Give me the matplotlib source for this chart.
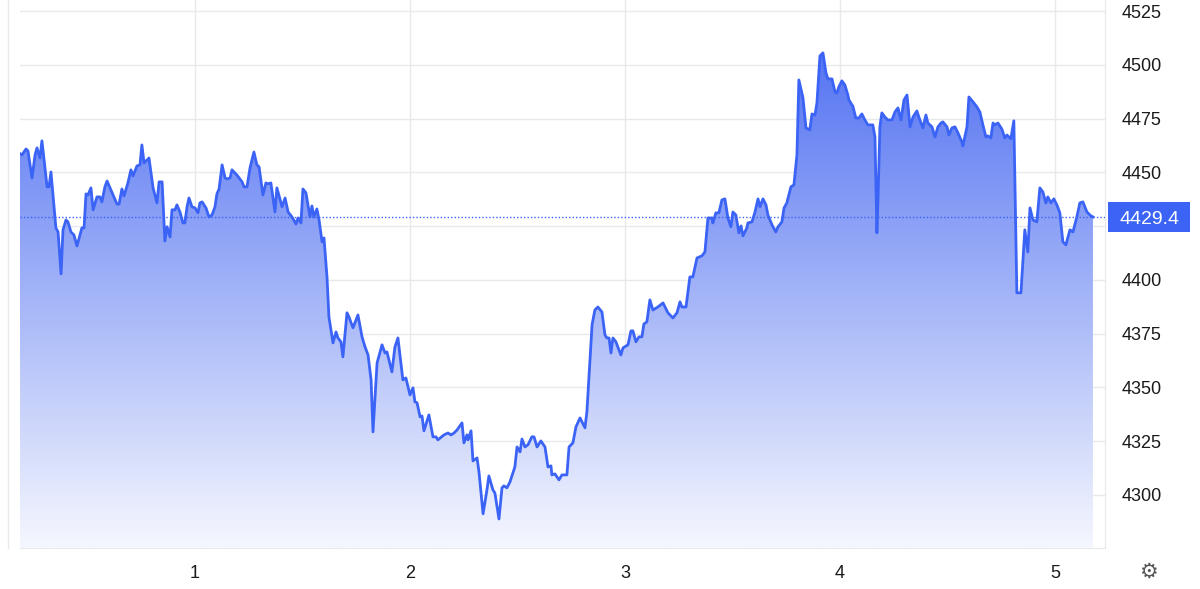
import matplotlib
matplotlib.use('Agg')
import matplotlib.pyplot as plt
import numpy as np
from matplotlib.patches import Polygon, Rectangle
from matplotlib.colors import LinearSegmentedColormap

time = [0.181,0.195,0.214,0.223,0.242,0.256,0.265,0.279,0.288,0.312,0.321,0.330,0.353,0.363,0.377,0.386,0.400,0.409,0.423,0.437,
0.451,0.474,0.484,0.493,0.502,0.516,0.526,0.544,0.558,0.567,0.581,0.591,0.619,0.637,0.647,0.660,0.670,0.688,0.702,0.712,
0.730,0.744,0.753,0.763,0.786,0.805,0.823,0.833,0.847,0.860,0.870,0.884,0.893,0.907,0.916,0.930,0.944,0.953,0.963,0.972,
0.986,1.000,1.014,1.023,1.033,1.051,1.065,1.079,1.093,1.102,1.112,1.126,1.140,1.149,1.163,1.172,1.195,1.219,1.228,1.242,
1.256,1.274,1.288,1.298,1.316,1.330,1.340,1.353,1.372,1.381,1.405,1.419,1.433,1.451,1.470,1.479,1.493,1.502,1.516,1.535,
1.544,1.553,1.567,1.577,1.591,1.600,1.614,1.623,1.642,1.656,1.665,1.679,1.688,1.707,1.716,1.735,1.758,1.777,1.791,1.805,
1.819,1.828,1.847,1.870,1.884,1.893,1.916,1.930,1.944,1.967,1.981,2.000,2.014,2.023,2.033,2.047,2.056,2.065,2.088,2.107,
2.121,2.130,2.158,2.177,2.191,2.205,2.219,2.242,2.251,2.265,2.270,2.284,2.293,2.312,2.321,2.340,2.358,2.367,2.386,2.395,
2.414,2.428,2.437,2.451,2.465,2.488,2.498,2.512,2.521,2.535,2.549,2.567,2.577,2.591,2.609,2.628,2.642,2.656,2.660,2.674,
2.693,2.707,2.730,2.740,2.758,2.772,2.791,2.814,2.823,2.847,2.860,2.874,2.893,2.907,2.916,2.926,2.935,2.944,2.958,2.981,
2.991,3.014,3.028,3.037,3.051,3.065,3.079,3.088,3.102,3.116,3.130,3.153,3.177,3.200,3.223,3.242,3.256,3.265,3.284,3.302,
3.316,3.335,3.358,3.372,3.386,3.405,3.409,3.423,3.437,3.451,3.465,3.479,3.493,3.502,3.516,3.530,3.540,3.549,3.567,3.572,
3.591,3.605,3.619,3.628,3.642,3.656,3.665,3.684,3.702,3.712,3.730,3.740,3.753,3.772,3.786,3.800,3.809,3.828,3.842,3.860,
3.870,3.884,3.893,3.907,3.921,3.935,3.944,3.963,3.977,3.986,3.995,4.009,4.023,4.037,4.042,4.056,4.060,4.074,4.088,4.102,
4.116,4.130,4.153,4.163,4.172,4.177,4.186,4.195,4.209,4.223,4.242,4.256,4.270,4.284,4.298,4.312,4.326,4.340,4.358,4.367,
4.377,4.386,4.400,4.409,4.428,4.442,4.456,4.470,4.479,4.498,4.507,4.521,4.535,4.549,4.567,4.572,4.591,4.600,4.619,4.637,
4.651,4.665,4.679,4.688,4.702,4.712,4.721,4.735,4.753,4.767,4.777,4.795,4.809,4.823,4.842,4.860,4.874,4.884,4.898,4.916,
4.930,4.944,4.958,4.967,4.981,4.995,5.009,5.023,5.037,5.051,5.070,5.084,5.102,5.116,5.130,5.149,5.167,5.177]

price = [4459.1,4458.1,4460.9,4460.0,4447.4,4458.1,4461.4,4456.7,4464.7,4443.3,4443.3,4450.2,4424.2,4422.3,4402.8,4423.3,4427.9,4427.0,4422.3,4420.9,
4415.8,4424.2,4424.2,4440.0,4439.5,4442.8,4432.6,4438.6,4438.6,4436.3,4443.3,4446.0,4439.5,4435.3,4435.3,4442.3,4439.1,4445.1,4451.2,4448.4,
4453.0,4453.5,4462.8,4454.4,4456.7,4442.8,4435.8,4445.6,4445.6,4418.1,4424.7,4420.0,4432.6,4432.6,4434.9,4431.6,4426.5,4426.5,4434.0,4438.1,
4434.0,4433.5,4431.2,4435.8,4436.3,4433.5,4429.3,4430.2,4434.0,4440.0,4442.3,4453.5,4447.4,4447.0,4447.4,4451.2,4448.8,4445.6,4443.3,4443.3,
4452.1,4459.5,4453.5,4452.6,4439.5,4445.1,4444.7,4445.1,4431.6,4442.8,4434.0,4438.1,4431.6,4429.3,4426.0,4428.8,4426.5,4442.3,4440.5,4429.3,
4434.4,4429.3,4433.0,4427.9,4417.7,4419.5,4401.4,4382.8,4370.7,4375.8,4373.0,4371.2,4364.2,4384.7,4382.8,4377.7,4383.7,4373.5,4368.8,4365.1,
4353.5,4329.3,4361.4,4369.8,4366.0,4366.5,4357.2,4368.8,4373.0,4353.5,4354.4,4346.5,4349.8,4343.3,4342.8,4336.3,4336.7,4329.8,4337.2,4327.0,
4327.0,4325.6,4327.9,4328.8,4327.9,4328.8,4330.2,4333.5,4324.2,4327.9,4325.6,4329.8,4315.8,4317.2,4310.7,4291.2,4302.3,4308.8,4302.3,4300.9,
4288.8,4303.3,4304.2,4303.3,4306.0,4313.0,4322.3,4320.0,4326.0,4322.3,4323.3,4327.0,4327.0,4322.3,4325.1,4322.3,4313.0,4313.5,4309.3,4309.8,
4307.0,4309.3,4309.3,4322.3,4324.2,4331.6,4335.8,4331.2,4338.6,4379.1,4386.0,4387.4,4385.1,4374.4,4373.0,4373.0,4366.0,4373.0,4371.2,4365.1,
4368.4,4369.8,4376.3,4376.3,4371.2,4373.5,4373.5,4379.5,4380.5,4390.7,4386.0,4387.4,4389.3,4384.7,4382.3,4384.7,4389.8,4387.4,4387.4,4401.4,4401.4,
4410.2,4411.2,4413.0,4428.8,4428.8,4426.5,4431.2,4431.2,4437.2,4437.7,4428.8,4424.7,4431.6,4430.2,4421.9,4425.1,4420.5,4424.2,4426.5,4427.0,
4431.6,4437.7,4434.0,4437.7,4434.9,4430.2,4425.6,4422.3,4424.7,4427.0,4433.5,4435.8,4443.3,4444.2,4458.1,4493.0,4484.7,4470.7,4469.8,4477.2,
4476.7,4482.3,4504.2,4505.6,4496.3,4493.5,4493.5,4487.4,4487.0,4489.8,4492.6,4490.7,4486.0,4483.7,4481.4,4480.9,4475.3,4475.3,4477.2,4474.4,
4472.1,4472.1,4466.5,4421.9,4437.2,4471.2,4477.7,4475.8,4474.4,4474.4,4478.1,4480.0,4474.4,4483.7,4486.0,4471.2,4475.8,4478.6,4475.8,4473.0,
4470.7,4476.7,4473.0,4471.2,4466.5,4471.2,4473.0,4473.5,4471.2,4467.4,4470.7,4471.2,4468.4,4464.2,4462.3,4471.2,4485.1,4482.8,4480.5,4478.1,
4472.1,4466.5,4467.0,4466.0,4473.0,4472.1,4473.0,4470.2,4466.0,4467.4,4465.6,4474.0,4394.0,4394.0,4423.3,4413.0,4433.5,4427.9,4427.0,4442.8,
4440.9,4435.8,4438.6,4435.8,4437.7,4434.9,4431.2,4417.7,4416.3,4423.3,4422.3,4429.3,4435.8,4436.3,4431.6,4429.8,4429.3]

x_ticks = [1, 2, 3, 4, 5]
y_ticks = [4300, 4325, 4350, 4375, 4400, 4425, 4450, 4475, 4500, 4525]
last_price = 4429.4

line_c = '#3b63f5'
grid_c = '#e8e9ec'
plt.rcParams['font.family'] = ['Liberation Sans', 'DejaVu Sans']

fig = plt.figure(figsize=(12, 5.89), dpi=100)
ax = fig.add_axes([20/1200, 41/589, 1085/1200, 548/589])
ymin, ymax = 4275.3, 4530.2
ax.set_xlim(0.186, 5.233)
ax.set_ylim(ymin, ymax)

grad = np.linspace(0, 1, 256).reshape(-1, 1)
cmap = LinearSegmentedColormap.from_list('g', ['#f5f7fe', '#5574f2'])
top = max(price)
im = ax.imshow(grad, extent=[min(time), max(time), ymin, top], origin='lower',
               aspect='auto', cmap=cmap, zorder=1)
poly = Polygon(list(zip(time, price)) + [(time[-1], ymin), (time[0], ymin)],
               closed=True, transform=ax.transData, facecolor='none', edgecolor='none')
ax.add_patch(poly)
im.set_clip_path(poly)

ax.plot(time, price, color=line_c, lw=2, zorder=3, solid_joinstyle='round')
ax.axhline(last_price, color=line_c, lw=1, ls=(0, (1, 1.5)), zorder=2)

for t in x_ticks:
    ax.axvline(t, color=grid_c, lw=1, zorder=0)
for t in y_ticks:
    ax.axhline(t, color=grid_c, lw=1, zorder=0)

ax.set_xticks(x_ticks)
ax.set_xticklabels([str(t) for t in x_ticks])
ax.yaxis.tick_right()
ax.set_yticks(y_ticks)
# the 4425 label sits under the last-price marker
ax.set_yticklabels(['' if abs(t - last_price) < 10 else str(t) for t in y_ticks])
ax.tick_params(length=0, labelsize=13, colors='#1a1a1a', pad=12)
for s in ['top', 'left']:
    ax.spines[s].set_visible(False)
for s in ['bottom', 'right']:
    ax.spines[s].set_color(grid_c)

# last price marker box
bx0 = 1.0 + 3/1085
ax.add_patch(Rectangle((bx0, last_price - 15/2.15), 82/1085, 30/2.15,
                       transform=ax.get_yaxis_transform(), fc=line_c, ec='none',
                       clip_on=False, zorder=5))
ax.text(bx0 + 41/1085, last_price - 1.5, f"{last_price}", transform=ax.get_yaxis_transform(),
        ha='center', va='center', color='white', fontsize=14, zorder=6, clip_on=False)

fig.add_artist(plt.Line2D([8/1200, 8/1200], [41/589, 1], color=grid_c, lw=1))
fig.text(1148/1200, (589-572)/589, '⚙', ha='center', va='center', fontsize=15,
         color='#555555', family='DejaVu Sans')

fig.savefig('out.png', dpi=100)
